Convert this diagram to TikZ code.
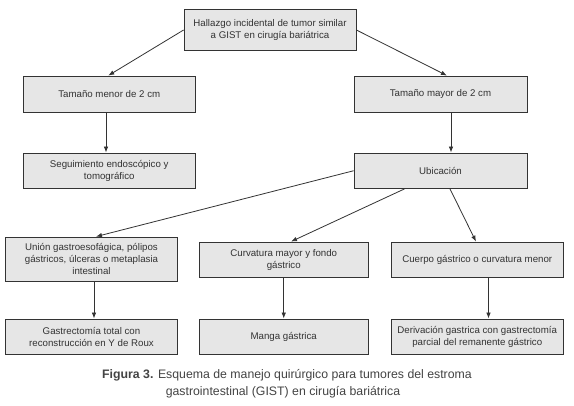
\documentclass[tikz,border=0pt]{standalone}
\usepackage{fontspec}
\setmainfont{Liberation Sans}
\usetikzlibrary{arrows.meta}
\definecolor{boxfill}{HTML}{E6E6E6}
\definecolor{linecol}{HTML}{333333}
\definecolor{txtcol}{HTML}{333333}
\definecolor{capcol}{HTML}{444444}
\tikzset{
  box/.style={draw=linecol, line width=0.8pt, fill=boxfill, text=txtcol, align=center,
    inner sep=2pt, font=\fontsize{9.7}{12}\selectfont},
  arr/.style={draw=linecol, line width=0.8pt, -{Latex[length=6pt,width=4.5pt]}},
  captext/.style={text=capcol, inner sep=0pt, anchor=base, font=\fontsize{12.3}{15}\selectfont}
}
\begin{document}
\begin{tikzpicture}[x=1pt,y=-1pt]
\useasboundingbox[fill=white] (0,0) rectangle (574,406);
\node[box, minimum width=172pt, minimum height=41pt] (top) at (270,30) {Hallazgo incidental de tumor similar\\a GIST en cirugía bariátrica};
\node[box, minimum width=171.5pt, minimum height=36pt] (menor) at (109.25,94) {Tamaño menor de 2 cm};
\node[box, minimum width=173pt, minimum height=36pt] (mayor) at (440.5,94) {Tamaño mayor de 2 cm};
\node[box, minimum width=171.5pt, minimum height=35.5pt] (seg) at (109.25,170.75) {Seguimiento endoscópico y\\tomográfico};
\node[box, minimum width=173pt, minimum height=35.5pt] (ubi) at (440.5,170.75) {Ubicación};
\node[box, minimum width=172pt, minimum height=44pt] (union) at (91.5,259) {Unión gastroesofágica, pólipos\\gástricos, úlceras o metaplasia\\intestinal};
\node[box, minimum width=168.5pt, minimum height=35.5pt] (curv) at (283.75,259.75) {Curvatura mayor y fondo\\gástrico};
\node[box, minimum width=172.5pt, minimum height=35.5pt] (cuerpo) at (477.25,259.75) {Cuerpo gástrico o curvatura menor};
\node[box, minimum width=172pt, minimum height=35.5pt] (gastr) at (91.5,336.75) {Gastrectomía total con\\reconstrucción en Y de Roux};
\node[box, minimum width=168.5pt, minimum height=35.5pt] (manga) at (283.75,336.75) {Manga gástrica};
\node[box, minimum width=172.5pt, minimum height=35.5pt] (deriv) at (477.25,336.75) {Derivación gastrica con gastrectomía\\parcial del remanente gástrico};
\node[captext] (cap1) at (287,378.5) {\textbf{Figura 3.} Esquema de manejo quirúrgico para tumores del estroma};
\node[captext] (cap2) at (283,396) {gastrointestinal (GIST) en cirugía bariátrica};
\draw[arr] (top.west) -- ([xshift=-1pt]menor.north);
\draw[arr] (top.east) -- ([xshift=6.5pt]mayor.north);
\draw[arr] ([xshift=-3.25pt]menor.south) -- ([xshift=-3.25pt]seg.north);
\draw[arr] ([xshift=10.5pt]mayor.south) -- ([xshift=10.5pt]ubi.north);
\draw[arr] (ubi.west) -- ([xshift=4.5pt]union.north);
\draw[arr] ([xshift=-36pt]ubi.south) -- ([xshift=7.25pt]curv.north);
\draw[arr] ([xshift=9.5pt]ubi.south) -- ([xshift=-1.25pt]cuerpo.north);
\draw[arr] ([xshift=2.5pt]union.south) -- ([xshift=2.5pt]gastr.north);
\draw[arr] (curv.south) -- (manga.north);
\draw[arr] ([xshift=11.25pt]cuerpo.south) -- ([xshift=11.25pt]deriv.north);
\end{tikzpicture}
\end{document}
